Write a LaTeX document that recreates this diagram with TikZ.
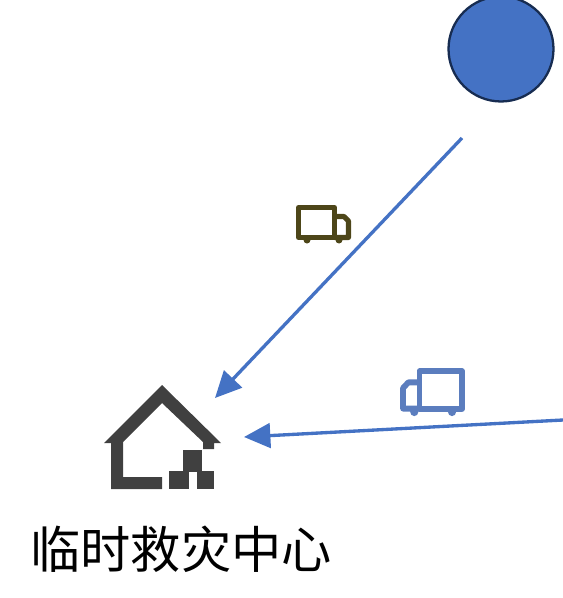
\documentclass[tikz,border=0pt]{standalone}
\usepackage{fontspec}
\newfontfamily\cjk{Noto Sans CJK SC}
\usepackage{xcolor}
\usetikzlibrary{arrows.meta}
\definecolor{b1}{HTML}{4472C4}
\definecolor{b2}{HTML}{172C51}
\definecolor{b3}{HTML}{5B7DBE}
\definecolor{o1}{HTML}{4D4619}
\definecolor{h1}{HTML}{404040}
\tikzset{>={Triangle[length=15pt,width=14pt]}}
\tikzstyle{route}=[->,b1,line width=1.9pt]
\tikzstyle{depot}=[circle,draw=b2,fill=b1,line width=1.3pt,minimum size=2.1cm,inner sep=0pt]
\tikzset{truck/.pic={
  \draw[line join=round] (2.5,2.5) rectangle (38.5,32.5);
  \draw[line join=round] (38.5,11.5) -- (48,11.5) -- (52.5,16) -- (52.5,32.5) -- (38.5,32.5);
  \fill (11,35) circle (3.5);
  \fill (43,35) circle (3.5);
}}

\begin{document}
\begin{tikzpicture}[x=0.02cm,y=-0.02cm]
  \useasboundingbox (0,0) rectangle (563,598);
  \node[depot] (depot) at (501,49) {};
  % the two routes
  \coordinate (startA) at (462,138);
  \coordinate (endA) at (215,398);
  \coordinate (startB) at (563,420);
  \coordinate (endB) at (244,437);
  \draw[route] (startA) -- (endA);
  \draw[route] (startB) -- (endB);
  \pic[color=o1,line width=2.9pt] (truckA) at (296,205) {truck};
  \pic[color=b3,line width=3.3pt,xscale=-1.18,yscale=1.25] (truckB) at (465,368) {truck};
  % shelter
  \fill[h1] (162,385) -- (221,443) -- (214,443) -- (214,449) -- (203,449) -- (203,442)
            -- (162,403) -- (123,442) -- (123,477) -- (162,477) -- (162,489) -- (111,489)
            -- (111,443) -- (104,443) -- cycle;
  \fill[h1] (183,450) rectangle (202,472);
  \fill[h1] (169,471) rectangle (189,489);
  \fill[h1] (197,471) rectangle (214,489);
  \node[inner sep=0pt] (shelter) at (181,549) {\cjk\fontsize{28.6pt}{30pt}\selectfont 临时救灾中心};
\end{tikzpicture}
\end{document}
